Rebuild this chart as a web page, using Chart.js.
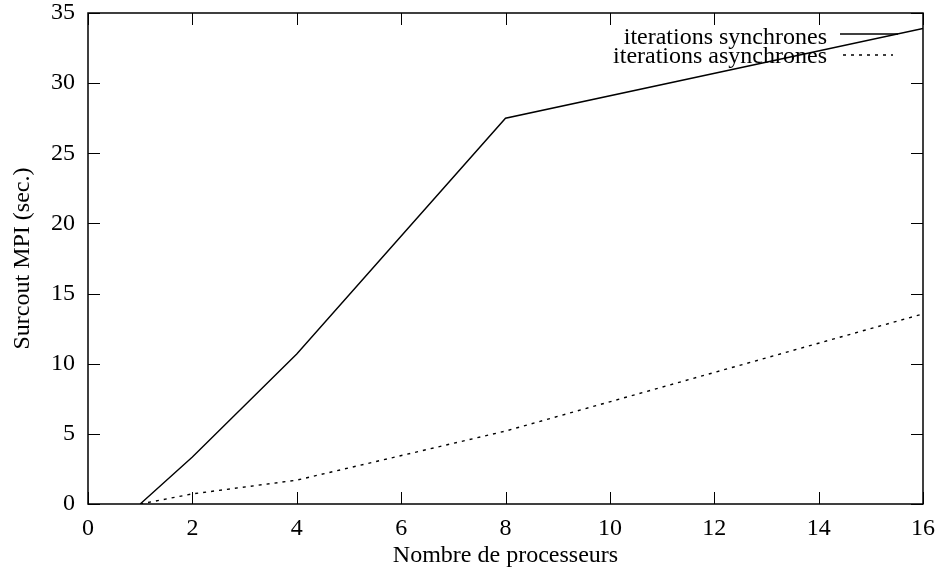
<!DOCTYPE html>
<html>
<head>
<meta charset="utf-8">
<script src="https://cdn.jsdelivr.net/npm/chart.js@4.4.1/dist/chart.umd.min.js"></script>
<style>
  html, body { margin: 0; padding: 0; background: #fff; }
  #wrap { width: 941px; height: 572px; }
</style>
</head>
<body>
<div id="wrap"><canvas id="c" width="941" height="572"></canvas></div>
<script>
// Number of processors and MPI overhead (seconds)
const processors = [1, 2, 4, 8, 16];
const syncOverhead = [0, 3.35, 10.7, 27.5, 33.9];
const asyncOverhead = [0, 0.72, 1.7, 5.2, 13.55];
const xTicks = [0, 2, 4, 6, 8, 10, 12, 14, 16];
const yTicks = [0, 5, 10, 15, 20, 25, 30, 35];
const seriesLabels = ['iterations synchrones', 'iterations asynchrones'];

const FONT = "'Liberation Serif', 'Times New Roman', serif";

function toPoints(xs, ys) { return xs.map((x, i) => ({ x: x, y: ys[i] })); }

// Frame, inward ticks on all four sides, and the key in the upper right
const framePlugin = {
  id: 'frame',
  afterDatasetsDraw(chart) {
    const { ctx, chartArea: a, scales } = chart;
    const len = 12;
    ctx.save();
    ctx.strokeStyle = '#000';
    ctx.lineWidth = 1;
    ctx.beginPath();
    xTicks.forEach(v => {
      const px = Math.round(scales.x.getPixelForValue(v)) + 0.5;
      ctx.moveTo(px, a.bottom); ctx.lineTo(px, a.bottom - len);
      ctx.moveTo(px, a.top); ctx.lineTo(px, a.top + len);
    });
    yTicks.forEach(v => {
      const py = Math.round(scales.y.getPixelForValue(v)) + 0.5;
      ctx.moveTo(a.left, py); ctx.lineTo(a.left + len, py);
      ctx.moveTo(a.right, py); ctx.lineTo(a.right - len, py);
    });
    ctx.stroke();
    ctx.lineWidth = 1.5;
    ctx.strokeRect(a.left, a.top, a.right - a.left, a.bottom - a.top);

    // key
    ctx.font = '24px ' + FONT;
    ctx.fillStyle = '#000';
    ctx.textAlign = 'right';
    ctx.textBaseline = 'alphabetic';
    const textRight = a.right - 96;
    const samples = [[a.right - 83, a.right - 25], [a.right - 80, a.right - 30]];
    chart.data.datasets.forEach((ds, i) => {
      const ly = a.top + 21 + i * 21;
      ctx.fillText(ds.label, textRight, a.top + 31 + i * 19);
      ctx.beginPath();
      ctx.lineWidth = ds.borderWidth;
      ctx.setLineDash(ds.borderDash || []);
      ctx.moveTo(samples[i][0], ly); ctx.lineTo(samples[i][1], ly);
      ctx.stroke();
    });
    ctx.setLineDash([]);
    ctx.restore();
  }
};

new Chart(document.getElementById('c'), {
  type: 'line',
  data: {
    datasets: [
      {
        label: seriesLabels[0],
        data: toPoints(processors, syncOverhead),
        borderColor: '#000', borderWidth: 1.4,
        pointRadius: 0, tension: 0, fill: false
      },
      {
        label: seriesLabels[1],
        data: toPoints(processors, asyncOverhead),
        borderColor: '#000', borderWidth: 1.4, borderDash: [3, 5],
        pointRadius: 0, tension: 0, fill: false
      }
    ]
  },
  options: {
    responsive: false,
    animation: false,
    devicePixelRatio: 1,
    layout: { padding: { top: 13, right: 18, left: 0, bottom: 0 } },
    plugins: { legend: { display: false }, tooltip: { enabled: false } },
    scales: {
      x: {
        type: 'linear', min: 0, max: 16,
        afterBuildTicks(s) { s.ticks = xTicks.map(v => ({ value: v })); },
        afterFit(s) { s.height = 68; s.paddingLeft = 0; s.paddingRight = 0; },
        grid: { display: false, drawTicks: false },
        border: { display: false },
        ticks: { color: '#000', font: { family: FONT, size: 24 }, padding: 10, maxRotation: 0 },
        title: { display: true, text: 'Nombre de processeurs', color: '#000',
                 font: { family: FONT, size: 24 }, padding: { top: 0, bottom: 2 } }
      },
      y: {
        type: 'linear', min: 0, max: 35,
        afterBuildTicks(s) { s.ticks = yTicks.map(v => ({ value: v })); },
        afterFit(s) { s.width = 88; s.paddingTop = 0; s.paddingBottom = 0; },
        grid: { display: false, drawTicks: false },
        border: { display: false },
        ticks: { color: '#000', font: { family: FONT, size: 24 }, padding: 13 },
        title: { display: true, text: 'Surcout MPI (sec.)', color: '#000',
                 font: { family: FONT, size: 24 }, padding: { top: 8, bottom: 0 } }
      }
    }
  },
  plugins: [framePlugin]
});
</script>
</body>
</html>
